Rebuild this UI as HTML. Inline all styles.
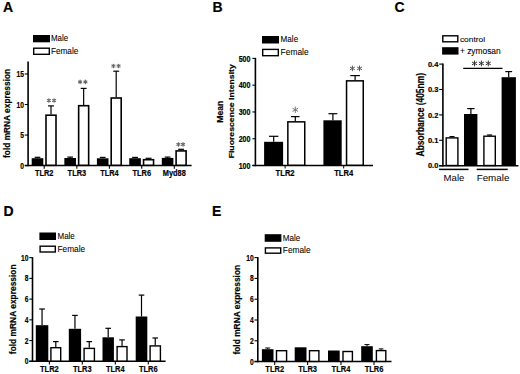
<!DOCTYPE html>
<html><head><meta charset="utf-8"><style>
html,body{margin:0;padding:0;background:#fff;}
body{width:520px;height:374px;overflow:hidden;}
svg{display:block;font-family:"Liberation Sans", sans-serif;}
text{stroke:#000;stroke-width:0.08px;}
text[font-weight="bold"]{stroke-width:0.18px;}
text.ns{stroke:none;}
</style></head><body>
<svg width="520" height="374" viewBox="0 0 520 374">
<rect width="520" height="374" fill="#fff"/>
<text x="3.00" y="12.00" font-size="14" font-weight="bold" text-anchor="start" fill="#000">A</text>
<text x="212.40" y="12.00" font-size="14" font-weight="bold" text-anchor="start" fill="#000">B</text>
<text x="394.50" y="12.00" font-size="14" font-weight="bold" text-anchor="start" fill="#000">C</text>
<text x="3.60" y="215.80" font-size="14" font-weight="bold" text-anchor="start" fill="#000">D</text>
<text x="211.90" y="215.70" font-size="14" font-weight="bold" text-anchor="start" fill="#000">E</text>
<line x1="28.10" y1="61.60" x2="28.10" y2="166.35" stroke="#000" stroke-width="1.6"/>
<line x1="24.80" y1="165.60" x2="191.60" y2="165.60" stroke="#000" stroke-width="1.5"/>
<line x1="24.80" y1="165.60" x2="28.10" y2="165.60" stroke="#000" stroke-width="1.1"/>
<text transform="translate(24.00,168.57) scale(0.8065,1)" font-size="8.31" font-weight="bold" text-anchor="end" fill="#000">0</text>
<line x1="24.80" y1="135.06" x2="28.10" y2="135.06" stroke="#000" stroke-width="1.1"/>
<text transform="translate(24.00,138.04) scale(0.8065,1)" font-size="8.31" font-weight="bold" text-anchor="end" fill="#000">5</text>
<line x1="24.80" y1="104.53" x2="28.10" y2="104.53" stroke="#000" stroke-width="1.1"/>
<text transform="translate(24.00,107.50) scale(0.8065,1)" font-size="8.31" font-weight="bold" text-anchor="end" fill="#000">10</text>
<line x1="24.80" y1="73.99" x2="28.10" y2="73.99" stroke="#000" stroke-width="1.1"/>
<text transform="translate(24.00,76.97) scale(0.8065,1)" font-size="8.31" font-weight="bold" text-anchor="end" fill="#000">15</text>
<text transform="translate(10.00,113.40) rotate(-90) scale(0.8696,1)" font-size="9.60" font-weight="bold" text-anchor="middle" fill="#000">fold mRNA expression</text>
<rect x="33.00" y="35.00" width="17.00" height="7.30" fill="#000"/>
<rect x="33.70" y="48.20" width="15.60" height="6.10" fill="#fff" stroke="#000" stroke-width="1.4"/>
<text transform="translate(51.00,40.90) scale(0.8696,1)" font-size="9.08" font-weight="normal" text-anchor="start" fill="#000">Male</text>
<text transform="translate(50.90,53.80) scale(0.8696,1)" font-size="9.49" font-weight="normal" text-anchor="start" fill="#000">Female</text>
<line x1="44.20" y1="165.60" x2="44.20" y2="168.80" stroke="#000" stroke-width="1.1"/>
<text transform="translate(44.20,175.90) scale(0.8696,1)" font-size="8.51" font-weight="bold" text-anchor="middle" fill="#000">TLR2</text>
<rect x="31.70" y="158.20" width="11.60" height="7.40" fill="#000"/>
<rect x="46.00" y="115.20" width="10.00" height="50.10" fill="#fff" stroke="#000" stroke-width="1.6"/>
<line x1="51.00" y1="114.40" x2="51.00" y2="105.90" stroke="#000" stroke-width="1.2"/>
<line x1="48.05" y1="105.90" x2="53.95" y2="105.90" stroke="#000" stroke-width="1.2"/>
<line x1="37.50" y1="158.20" x2="37.50" y2="157.30" stroke="#000" stroke-width="1.2"/>
<line x1="34.65" y1="157.30" x2="40.35" y2="157.30" stroke="#000" stroke-width="1.2"/>
<path d="M48.85,98.70L48.85,102.30M47.29,99.60L50.41,101.40M47.29,101.40L50.41,99.60" stroke="#666" stroke-width="1.1" stroke-linecap="round" fill="none"/>
<path d="M54.10,98.70L54.10,102.30M52.54,99.60L55.66,101.40M52.54,101.40L55.66,99.60" stroke="#666" stroke-width="1.1" stroke-linecap="round" fill="none"/>
<line x1="76.85" y1="165.60" x2="76.85" y2="168.80" stroke="#000" stroke-width="1.1"/>
<text transform="translate(76.85,175.90) scale(0.8696,1)" font-size="8.51" font-weight="bold" text-anchor="middle" fill="#000">TLR3</text>
<rect x="64.35" y="158.00" width="11.60" height="7.60" fill="#000"/>
<rect x="78.65" y="105.70" width="10.00" height="59.60" fill="#fff" stroke="#000" stroke-width="1.6"/>
<line x1="83.65" y1="104.90" x2="83.65" y2="88.40" stroke="#000" stroke-width="1.2"/>
<line x1="80.70" y1="88.40" x2="86.60" y2="88.40" stroke="#000" stroke-width="1.2"/>
<line x1="70.15" y1="158.00" x2="70.15" y2="157.10" stroke="#000" stroke-width="1.2"/>
<line x1="67.30" y1="157.10" x2="73.00" y2="157.10" stroke="#000" stroke-width="1.2"/>
<path d="M80.10,80.10L80.10,83.70M78.54,81.00L81.66,82.80M78.54,82.80L81.66,81.00" stroke="#666" stroke-width="1.1" stroke-linecap="round" fill="none"/>
<path d="M85.40,80.10L85.40,83.70M83.84,81.00L86.96,82.80M83.84,82.80L86.96,81.00" stroke="#666" stroke-width="1.1" stroke-linecap="round" fill="none"/>
<line x1="109.40" y1="165.60" x2="109.40" y2="168.80" stroke="#000" stroke-width="1.1"/>
<text transform="translate(109.40,175.90) scale(0.8696,1)" font-size="8.51" font-weight="bold" text-anchor="middle" fill="#000">TLR4</text>
<rect x="96.90" y="158.30" width="11.60" height="7.30" fill="#000"/>
<rect x="111.20" y="98.00" width="10.00" height="67.30" fill="#fff" stroke="#000" stroke-width="1.6"/>
<line x1="116.20" y1="97.20" x2="116.20" y2="71.20" stroke="#000" stroke-width="1.2"/>
<line x1="113.25" y1="71.20" x2="119.15" y2="71.20" stroke="#000" stroke-width="1.2"/>
<line x1="102.70" y1="158.30" x2="102.70" y2="157.40" stroke="#000" stroke-width="1.2"/>
<line x1="99.85" y1="157.40" x2="105.55" y2="157.40" stroke="#000" stroke-width="1.2"/>
<path d="M113.40,64.20L113.40,67.80M111.84,65.10L114.96,66.90M111.84,66.90L114.96,65.10" stroke="#666" stroke-width="1.1" stroke-linecap="round" fill="none"/>
<path d="M118.60,64.20L118.60,67.80M117.04,65.10L120.16,66.90M117.04,66.90L120.16,65.10" stroke="#666" stroke-width="1.1" stroke-linecap="round" fill="none"/>
<line x1="141.75" y1="165.60" x2="141.75" y2="168.80" stroke="#000" stroke-width="1.1"/>
<text transform="translate(141.75,175.90) scale(0.8696,1)" font-size="8.51" font-weight="bold" text-anchor="middle" fill="#000">TLR6</text>
<rect x="129.25" y="158.20" width="11.60" height="7.40" fill="#000"/>
<rect x="143.55" y="159.70" width="10.00" height="5.60" fill="#fff" stroke="#000" stroke-width="1.6"/>
<line x1="148.55" y1="158.90" x2="148.55" y2="158.30" stroke="#000" stroke-width="1.2"/>
<line x1="145.60" y1="158.30" x2="151.50" y2="158.30" stroke="#000" stroke-width="1.2"/>
<line x1="135.05" y1="158.20" x2="135.05" y2="157.40" stroke="#000" stroke-width="1.2"/>
<line x1="132.20" y1="157.40" x2="137.90" y2="157.40" stroke="#000" stroke-width="1.2"/>
<line x1="174.30" y1="165.60" x2="174.30" y2="168.80" stroke="#000" stroke-width="1.1"/>
<text transform="translate(174.30,175.90) scale(0.8696,1)" font-size="8.51" font-weight="bold" text-anchor="middle" fill="#000">Myd88</text>
<rect x="161.80" y="157.90" width="11.60" height="7.70" fill="#000"/>
<rect x="176.10" y="150.90" width="10.00" height="14.40" fill="#fff" stroke="#000" stroke-width="1.6"/>
<line x1="181.10" y1="150.10" x2="181.10" y2="149.30" stroke="#000" stroke-width="1.2"/>
<line x1="178.15" y1="149.30" x2="184.05" y2="149.30" stroke="#000" stroke-width="1.2"/>
<line x1="167.60" y1="157.90" x2="167.60" y2="157.10" stroke="#000" stroke-width="1.2"/>
<line x1="164.75" y1="157.10" x2="170.45" y2="157.10" stroke="#000" stroke-width="1.2"/>
<path d="M178.40,142.60L178.40,146.20M176.84,143.50L179.96,145.30M176.84,145.30L179.96,143.50" stroke="#666" stroke-width="1.1" stroke-linecap="round" fill="none"/>
<path d="M183.00,142.60L183.00,146.20M181.44,143.50L184.56,145.30M181.44,145.30L184.56,143.50" stroke="#666" stroke-width="1.1" stroke-linecap="round" fill="none"/>
<line x1="255.40" y1="57.90" x2="255.40" y2="166.25" stroke="#000" stroke-width="1.6"/>
<line x1="252.40" y1="165.50" x2="373.00" y2="165.50" stroke="#000" stroke-width="1.5"/>
<line x1="252.40" y1="165.50" x2="255.40" y2="165.50" stroke="#000" stroke-width="1.1"/>
<text transform="translate(250.50,168.60) scale(0.8197,1)" font-size="8.66" font-weight="bold" text-anchor="end" fill="#000">100</text>
<line x1="252.40" y1="138.72" x2="255.40" y2="138.72" stroke="#000" stroke-width="1.1"/>
<text transform="translate(250.50,141.83) scale(0.8197,1)" font-size="8.66" font-weight="bold" text-anchor="end" fill="#000">200</text>
<line x1="252.40" y1="111.95" x2="255.40" y2="111.95" stroke="#000" stroke-width="1.1"/>
<text transform="translate(250.50,115.05) scale(0.8197,1)" font-size="8.66" font-weight="bold" text-anchor="end" fill="#000">300</text>
<line x1="252.40" y1="85.17" x2="255.40" y2="85.17" stroke="#000" stroke-width="1.1"/>
<text transform="translate(250.50,88.28) scale(0.8197,1)" font-size="8.66" font-weight="bold" text-anchor="end" fill="#000">400</text>
<line x1="252.40" y1="58.40" x2="255.40" y2="58.40" stroke="#000" stroke-width="1.1"/>
<text transform="translate(250.50,61.50) scale(0.8197,1)" font-size="8.66" font-weight="bold" text-anchor="end" fill="#000">500</text>
<text transform="translate(222.90,111.70) rotate(-90) scale(1.0309,1)" font-size="8.44" font-weight="bold" text-anchor="middle" fill="#000">Mean</text>
<text transform="translate(234.30,111.30) rotate(-90) scale(1.0870,1)" font-size="8.00" font-weight="bold" text-anchor="middle" fill="#000">Fluorescence Intensity</text>
<rect x="262.00" y="36.00" width="17.00" height="7.50" fill="#000"/>
<rect x="262.70" y="49.40" width="15.60" height="6.30" fill="#fff" stroke="#000" stroke-width="1.4"/>
<text transform="translate(280.60,42.10) scale(0.8696,1)" font-size="9.31" font-weight="normal" text-anchor="start" fill="#000">Male</text>
<text transform="translate(280.60,55.00) scale(0.8696,1)" font-size="9.66" font-weight="normal" text-anchor="start" fill="#000">Female</text>
<rect x="264.10" y="141.80" width="19.00" height="23.70" fill="#000"/>
<line x1="273.70" y1="141.80" x2="273.70" y2="136.30" stroke="#000" stroke-width="1.2"/>
<line x1="269.00" y1="136.30" x2="278.40" y2="136.30" stroke="#000" stroke-width="1.2"/>
<rect x="287.85" y="121.85" width="16.90" height="43.40" fill="#fff" stroke="#000" stroke-width="1.5"/>
<line x1="295.30" y1="121.10" x2="295.30" y2="116.60" stroke="#000" stroke-width="1.2"/>
<line x1="291.05" y1="116.60" x2="299.55" y2="116.60" stroke="#000" stroke-width="1.2"/>
<path d="M295.30,107.00L295.30,112.60M292.88,108.40L297.72,111.20M292.88,111.20L297.72,108.40" stroke="#777" stroke-width="1.0" stroke-linecap="round" fill="none"/>
<rect x="323.40" y="120.30" width="18.30" height="45.20" fill="#000"/>
<line x1="332.90" y1="120.30" x2="332.90" y2="113.70" stroke="#000" stroke-width="1.2"/>
<line x1="328.45" y1="113.70" x2="337.35" y2="113.70" stroke="#000" stroke-width="1.2"/>
<rect x="346.55" y="80.85" width="16.70" height="84.40" fill="#fff" stroke="#000" stroke-width="1.5"/>
<line x1="355.10" y1="80.10" x2="355.10" y2="75.60" stroke="#000" stroke-width="1.2"/>
<line x1="350.30" y1="75.60" x2="359.90" y2="75.60" stroke="#000" stroke-width="1.2"/>
<path d="M352.40,66.00L352.40,70.80M350.32,67.20L354.48,69.60M350.32,69.60L354.48,67.20" stroke="#555" stroke-width="1.0" stroke-linecap="round" fill="none"/>
<path d="M359.50,66.00L359.50,70.80M357.42,67.20L361.58,69.60M357.42,69.60L361.58,67.20" stroke="#555" stroke-width="1.0" stroke-linecap="round" fill="none"/>
<line x1="285.10" y1="165.50" x2="285.10" y2="168.50" stroke="#000" stroke-width="1.0"/>
<text transform="translate(285.10,176.00) scale(0.8696,1)" font-size="8.74" font-weight="bold" text-anchor="middle" fill="#000">TLR2</text>
<line x1="343.70" y1="165.50" x2="343.70" y2="168.50" stroke="#000" stroke-width="1.0"/>
<text transform="translate(343.70,176.00) scale(0.8696,1)" font-size="8.74" font-weight="bold" text-anchor="middle" fill="#000">TLR4</text>
<line x1="442.90" y1="63.60" x2="442.90" y2="166.45" stroke="#000" stroke-width="1.6"/>
<line x1="439.10" y1="165.70" x2="518.40" y2="165.70" stroke="#000" stroke-width="1.5"/>
<line x1="439.20" y1="165.70" x2="442.90" y2="165.70" stroke="#000" stroke-width="1.1"/>
<text transform="translate(438.30,168.42) scale(0.9804,1)" font-size="7.65" font-weight="bold" text-anchor="end" fill="#000">0.0</text>
<line x1="439.20" y1="140.30" x2="442.90" y2="140.30" stroke="#000" stroke-width="1.1"/>
<text transform="translate(438.30,143.02) scale(0.9804,1)" font-size="7.65" font-weight="bold" text-anchor="end" fill="#000">0.1</text>
<line x1="439.20" y1="114.90" x2="442.90" y2="114.90" stroke="#000" stroke-width="1.1"/>
<text transform="translate(438.30,117.62) scale(0.9804,1)" font-size="7.65" font-weight="bold" text-anchor="end" fill="#000">0.2</text>
<line x1="439.20" y1="89.50" x2="442.90" y2="89.50" stroke="#000" stroke-width="1.1"/>
<text transform="translate(438.30,92.22) scale(0.9804,1)" font-size="7.65" font-weight="bold" text-anchor="end" fill="#000">0.3</text>
<line x1="439.20" y1="64.10" x2="442.90" y2="64.10" stroke="#000" stroke-width="1.1"/>
<text transform="translate(438.30,66.82) scale(0.9804,1)" font-size="7.65" font-weight="bold" text-anchor="end" fill="#000">0.4</text>
<text transform="translate(424.30,114.70) rotate(-90) scale(0.8197,1)" font-size="10.31" font-weight="bold" text-anchor="middle" fill="#000">Absorbance (405nm)</text>
<rect x="442.80" y="35.80" width="15.00" height="6.00" fill="#fff" stroke="#000" stroke-width="1.4"/>
<rect x="442.10" y="47.20" width="16.40" height="7.40" fill="#000"/>
<text transform="translate(459.90,41.80) scale(1.0526,1)" font-size="7.98" font-weight="normal" text-anchor="start" fill="#000">control</text>
<text transform="translate(459.90,54.00) scale(1.0309,1)" font-size="8.15" font-weight="normal" text-anchor="start" fill="#000">+ zymosan</text>
<rect x="446.20" y="137.90" width="11.70" height="27.60" fill="#fff" stroke="#000" stroke-width="1.4"/>
<line x1="452.00" y1="137.20" x2="452.00" y2="136.60" stroke="#000" stroke-width="1.2"/>
<line x1="449.50" y1="136.60" x2="454.50" y2="136.60" stroke="#000" stroke-width="1.2"/>
<rect x="464.00" y="114.00" width="13.40" height="51.70" fill="#000"/>
<line x1="470.90" y1="114.00" x2="470.90" y2="108.60" stroke="#000" stroke-width="1.2"/>
<line x1="467.25" y1="108.60" x2="474.55" y2="108.60" stroke="#000" stroke-width="1.2"/>
<rect x="483.90" y="136.20" width="11.40" height="29.30" fill="#fff" stroke="#000" stroke-width="1.4"/>
<line x1="489.60" y1="135.50" x2="489.60" y2="135.00" stroke="#000" stroke-width="1.2"/>
<line x1="487.10" y1="135.00" x2="492.10" y2="135.00" stroke="#000" stroke-width="1.2"/>
<rect x="501.60" y="77.20" width="14.30" height="88.50" fill="#000"/>
<line x1="508.70" y1="77.20" x2="508.70" y2="71.60" stroke="#000" stroke-width="1.2"/>
<line x1="505.25" y1="71.60" x2="512.15" y2="71.60" stroke="#000" stroke-width="1.2"/>
<line x1="463.20" y1="68.40" x2="502.50" y2="68.40" stroke="#000" stroke-width="1.2"/>
<path d="M474.50,60.90L474.50,65.90M472.33,62.15L476.67,64.65M472.33,64.65L476.67,62.15" stroke="#333" stroke-width="1.0" stroke-linecap="round" fill="none"/>
<path d="M481.40,60.90L481.40,65.90M479.23,62.15L483.57,64.65M479.23,64.65L483.57,62.15" stroke="#333" stroke-width="1.0" stroke-linecap="round" fill="none"/>
<path d="M488.30,60.90L488.30,65.90M486.13,62.15L490.47,64.65M486.13,64.65L490.47,62.15" stroke="#333" stroke-width="1.0" stroke-linecap="round" fill="none"/>
<line x1="439.10" y1="169.40" x2="468.50" y2="169.40" stroke="#000" stroke-width="1.5"/>
<line x1="476.70" y1="169.40" x2="507.70" y2="169.40" stroke="#000" stroke-width="1.5"/>
<text class="ns" x="454.00" y="181.40" font-size="9.6" font-weight="normal" text-anchor="middle" fill="#000">Male</text>
<text class="ns" x="493.00" y="181.40" font-size="9.8" font-weight="normal" text-anchor="middle" fill="#000">Female</text>
<line x1="32.50" y1="257.15" x2="32.50" y2="362.05" stroke="#000" stroke-width="1.6"/>
<line x1="29.30" y1="361.30" x2="165.60" y2="361.30" stroke="#000" stroke-width="1.5"/>
<line x1="29.30" y1="361.30" x2="32.50" y2="361.30" stroke="#000" stroke-width="1.1"/>
<text transform="translate(28.50,364.27) scale(0.8065,1)" font-size="8.31" font-weight="bold" text-anchor="end" fill="#000">0</text>
<line x1="29.30" y1="340.57" x2="32.50" y2="340.57" stroke="#000" stroke-width="1.1"/>
<text transform="translate(28.50,343.54) scale(0.8065,1)" font-size="8.31" font-weight="bold" text-anchor="end" fill="#000">2</text>
<line x1="29.30" y1="319.84" x2="32.50" y2="319.84" stroke="#000" stroke-width="1.1"/>
<text transform="translate(28.50,322.81) scale(0.8065,1)" font-size="8.31" font-weight="bold" text-anchor="end" fill="#000">4</text>
<line x1="29.30" y1="299.11" x2="32.50" y2="299.11" stroke="#000" stroke-width="1.1"/>
<text transform="translate(28.50,302.08) scale(0.8065,1)" font-size="8.31" font-weight="bold" text-anchor="end" fill="#000">6</text>
<line x1="29.30" y1="278.38" x2="32.50" y2="278.38" stroke="#000" stroke-width="1.1"/>
<text transform="translate(28.50,281.35) scale(0.8065,1)" font-size="8.31" font-weight="bold" text-anchor="end" fill="#000">8</text>
<line x1="29.30" y1="257.65" x2="32.50" y2="257.65" stroke="#000" stroke-width="1.1"/>
<text transform="translate(28.50,260.62) scale(0.8065,1)" font-size="8.31" font-weight="bold" text-anchor="end" fill="#000">10</text>
<text transform="translate(15.60,309.30) rotate(-90) scale(0.8696,1)" font-size="9.66" font-weight="bold" text-anchor="middle" fill="#000">fold mRNA expression</text>
<rect x="39.40" y="232.50" width="16.60" height="7.50" fill="#000"/>
<rect x="40.10" y="246.20" width="15.20" height="5.80" fill="#fff" stroke="#000" stroke-width="1.4"/>
<text transform="translate(57.50,238.90) scale(0.8696,1)" font-size="9.20" font-weight="normal" text-anchor="start" fill="#000">Male</text>
<text transform="translate(57.50,251.80) scale(0.8696,1)" font-size="9.54" font-weight="normal" text-anchor="start" fill="#000">Female</text>
<line x1="49.40" y1="361.30" x2="49.40" y2="364.60" stroke="#000" stroke-width="1.1"/>
<text transform="translate(49.40,371.80) scale(0.8696,1)" font-size="8.62" font-weight="bold" text-anchor="middle" fill="#000">TLR2</text>
<rect x="35.80" y="325.20" width="12.50" height="36.10" fill="#000"/>
<line x1="42.05" y1="325.20" x2="42.05" y2="309.00" stroke="#000" stroke-width="1.2"/>
<line x1="39.25" y1="309.00" x2="44.85" y2="309.00" stroke="#000" stroke-width="1.2"/>
<rect x="50.90" y="347.70" width="9.80" height="13.40" fill="#fff" stroke="#000" stroke-width="1.4"/>
<line x1="55.80" y1="347.00" x2="55.80" y2="341.60" stroke="#000" stroke-width="1.2"/>
<line x1="53.00" y1="341.60" x2="58.60" y2="341.60" stroke="#000" stroke-width="1.2"/>
<line x1="82.30" y1="361.30" x2="82.30" y2="364.60" stroke="#000" stroke-width="1.1"/>
<text transform="translate(82.30,371.80) scale(0.8696,1)" font-size="8.62" font-weight="bold" text-anchor="middle" fill="#000">TLR3</text>
<rect x="68.80" y="328.80" width="12.30" height="32.50" fill="#000"/>
<line x1="74.95" y1="328.80" x2="74.95" y2="315.40" stroke="#000" stroke-width="1.2"/>
<line x1="72.15" y1="315.40" x2="77.75" y2="315.40" stroke="#000" stroke-width="1.2"/>
<rect x="84.10" y="348.40" width="10.30" height="12.70" fill="#fff" stroke="#000" stroke-width="1.4"/>
<line x1="89.25" y1="347.70" x2="89.25" y2="341.60" stroke="#000" stroke-width="1.2"/>
<line x1="86.45" y1="341.60" x2="92.05" y2="341.60" stroke="#000" stroke-width="1.2"/>
<line x1="115.30" y1="361.30" x2="115.30" y2="364.60" stroke="#000" stroke-width="1.1"/>
<text transform="translate(115.30,371.80) scale(0.8696,1)" font-size="8.62" font-weight="bold" text-anchor="middle" fill="#000">TLR4</text>
<rect x="102.50" y="337.30" width="11.40" height="24.00" fill="#000"/>
<line x1="108.20" y1="337.30" x2="108.20" y2="328.30" stroke="#000" stroke-width="1.2"/>
<line x1="105.40" y1="328.30" x2="111.00" y2="328.30" stroke="#000" stroke-width="1.2"/>
<rect x="117.10" y="346.60" width="9.90" height="14.50" fill="#fff" stroke="#000" stroke-width="1.4"/>
<line x1="122.05" y1="345.90" x2="122.05" y2="339.90" stroke="#000" stroke-width="1.2"/>
<line x1="119.25" y1="339.90" x2="124.85" y2="339.90" stroke="#000" stroke-width="1.2"/>
<line x1="148.30" y1="361.30" x2="148.30" y2="364.60" stroke="#000" stroke-width="1.1"/>
<text transform="translate(148.30,371.80) scale(0.8696,1)" font-size="8.62" font-weight="bold" text-anchor="middle" fill="#000">TLR6</text>
<rect x="135.70" y="316.50" width="11.60" height="44.80" fill="#000"/>
<line x1="141.50" y1="316.50" x2="141.50" y2="295.10" stroke="#000" stroke-width="1.2"/>
<line x1="138.70" y1="295.10" x2="144.30" y2="295.10" stroke="#000" stroke-width="1.2"/>
<rect x="150.10" y="345.90" width="10.30" height="15.20" fill="#fff" stroke="#000" stroke-width="1.4"/>
<line x1="155.25" y1="345.20" x2="155.25" y2="338.00" stroke="#000" stroke-width="1.2"/>
<line x1="152.45" y1="338.00" x2="158.05" y2="338.00" stroke="#000" stroke-width="1.2"/>
<line x1="257.80" y1="257.10" x2="257.80" y2="362.35" stroke="#000" stroke-width="1.6"/>
<line x1="254.50" y1="361.60" x2="391.50" y2="361.60" stroke="#000" stroke-width="1.5"/>
<line x1="254.50" y1="361.60" x2="257.80" y2="361.60" stroke="#000" stroke-width="1.1"/>
<text transform="translate(253.70,364.57) scale(0.8065,1)" font-size="8.31" font-weight="bold" text-anchor="end" fill="#000">0</text>
<line x1="254.50" y1="340.80" x2="257.80" y2="340.80" stroke="#000" stroke-width="1.1"/>
<text transform="translate(253.70,343.77) scale(0.8065,1)" font-size="8.31" font-weight="bold" text-anchor="end" fill="#000">2</text>
<line x1="254.50" y1="320.00" x2="257.80" y2="320.00" stroke="#000" stroke-width="1.1"/>
<text transform="translate(253.70,322.97) scale(0.8065,1)" font-size="8.31" font-weight="bold" text-anchor="end" fill="#000">4</text>
<line x1="254.50" y1="299.20" x2="257.80" y2="299.20" stroke="#000" stroke-width="1.1"/>
<text transform="translate(253.70,302.17) scale(0.8065,1)" font-size="8.31" font-weight="bold" text-anchor="end" fill="#000">6</text>
<line x1="254.50" y1="278.40" x2="257.80" y2="278.40" stroke="#000" stroke-width="1.1"/>
<text transform="translate(253.70,281.37) scale(0.8065,1)" font-size="8.31" font-weight="bold" text-anchor="end" fill="#000">8</text>
<line x1="254.50" y1="257.60" x2="257.80" y2="257.60" stroke="#000" stroke-width="1.1"/>
<text transform="translate(253.70,260.57) scale(0.8065,1)" font-size="8.31" font-weight="bold" text-anchor="end" fill="#000">10</text>
<text transform="translate(240.40,309.70) rotate(-90) scale(0.8696,1)" font-size="9.66" font-weight="bold" text-anchor="middle" fill="#000">fold mRNA expression</text>
<rect x="264.70" y="234.20" width="16.70" height="7.60" fill="#000"/>
<rect x="265.40" y="247.90" width="15.30" height="5.30" fill="#fff" stroke="#000" stroke-width="1.4"/>
<text transform="translate(282.80,241.00) scale(0.8696,1)" font-size="9.31" font-weight="normal" text-anchor="start" fill="#000">Male</text>
<text transform="translate(282.80,253.20) scale(0.8696,1)" font-size="9.60" font-weight="normal" text-anchor="start" fill="#000">Female</text>
<line x1="274.70" y1="361.60" x2="274.70" y2="365.00" stroke="#000" stroke-width="1.1"/>
<text transform="translate(274.70,371.80) scale(0.8696,1)" font-size="8.62" font-weight="bold" text-anchor="middle" fill="#000">TLR2</text>
<rect x="261.90" y="349.20" width="11.60" height="12.40" fill="#000"/>
<line x1="267.70" y1="349.20" x2="267.70" y2="348.00" stroke="#000" stroke-width="1.0"/>
<line x1="265.20" y1="348.00" x2="270.20" y2="348.00" stroke="#000" stroke-width="1.0"/>
<rect x="276.50" y="350.70" width="10.10" height="10.70" fill="#fff" stroke="#000" stroke-width="1.4"/>
<line x1="307.65" y1="361.60" x2="307.65" y2="365.00" stroke="#000" stroke-width="1.1"/>
<text transform="translate(307.65,371.80) scale(0.8696,1)" font-size="8.62" font-weight="bold" text-anchor="middle" fill="#000">TLR3</text>
<rect x="294.70" y="347.30" width="11.80" height="14.30" fill="#000"/>
<rect x="309.50" y="350.70" width="9.40" height="10.70" fill="#fff" stroke="#000" stroke-width="1.4"/>
<line x1="340.95" y1="361.60" x2="340.95" y2="365.00" stroke="#000" stroke-width="1.1"/>
<text transform="translate(340.95,371.80) scale(0.8696,1)" font-size="8.62" font-weight="bold" text-anchor="middle" fill="#000">TLR4</text>
<rect x="328.00" y="350.50" width="11.70" height="11.10" fill="#000"/>
<rect x="343.00" y="351.50" width="9.40" height="9.90" fill="#fff" stroke="#000" stroke-width="1.4"/>
<line x1="374.00" y1="361.60" x2="374.00" y2="365.00" stroke="#000" stroke-width="1.1"/>
<text transform="translate(374.00,371.80) scale(0.8696,1)" font-size="8.62" font-weight="bold" text-anchor="middle" fill="#000">TLR6</text>
<rect x="361.20" y="346.20" width="11.60" height="15.40" fill="#000"/>
<line x1="367.00" y1="346.20" x2="367.00" y2="344.60" stroke="#000" stroke-width="1.0"/>
<line x1="364.50" y1="344.60" x2="369.50" y2="344.60" stroke="#000" stroke-width="1.0"/>
<rect x="376.40" y="350.60" width="9.40" height="10.80" fill="#fff" stroke="#000" stroke-width="1.4"/>
<line x1="381.10" y1="349.90" x2="381.10" y2="348.90" stroke="#000" stroke-width="1.0"/>
<line x1="378.80" y1="348.90" x2="383.40" y2="348.90" stroke="#000" stroke-width="1.0"/>
</svg>
</body></html>
